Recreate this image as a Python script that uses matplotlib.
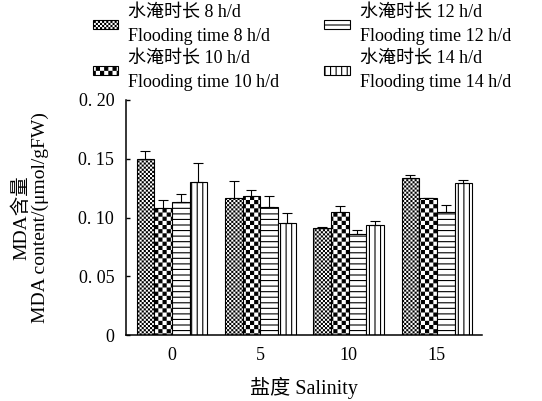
import warnings
import numpy as np
import matplotlib
matplotlib.use('Agg')
import matplotlib.pyplot as plt
import matplotlib.hatch as mhatch
from matplotlib.path import Path

warnings.filterwarnings('ignore')

"""data read off the figure"""
salinity = ['0', '5', '10', '15']
labels = ['水淹时长 8 h/d\nFlooding time 8 h/d',
          '水淹时长 10 h/d\nFlooding time 10 h/d',
          '水淹时长 12 h/d\nFlooding time 12 h/d',
          '水淹时长 14 h/d\nFlooding time 14 h/d']
mda_8h = [0.150, 0.117, 0.091, 0.134]
mda_10h = [0.108, 0.118, 0.105, 0.117]
mda_12h = [0.113, 0.109, 0.086, 0.105]
mda_14h = [0.130, 0.095, 0.094, 0.129]
err_8h = [0.007, 0.014, 0.001, 0.002]
err_10h = [0.0065, 0.0056, 0.0044, 0.0]
err_12h = [0.007, 0.009, 0.0034, 0.0057]
err_14h = [0.016, 0.0085, 0.0034, 0.0026]
yticks = [0, 0.05, 0.10, 0.15, 0.20]
ytick_labels = ['0', '0. 05', '0. 10', '0. 15', '0. 20']

plt.rcParams['font.family'] = ['Liberation Serif', 'Noto Sans CJK SC']
plt.rcParams['hatch.linewidth'] = 0.8


class CheckerHatch(mhatch.HatchPatternBase):
    """checkerboard hatch: each 'c' gives 24 squares per inch"""
    def __init__(self, hatch, density):
        self.num_sq = 4 * hatch.count('c') * density
        self.num_vertices = (self.num_sq ** 2 // 2) * 5

    def set_vertices_and_codes(self, vertices, codes):
        s = 1.0 / self.num_sq
        d = plt.rcParams['hatch.linewidth'] / 72.0 / 2
        k = 0
        for i in range(self.num_sq):
            for j in range(self.num_sq):
                if (i + j) % 2:
                    continue
                x0, y0 = i * s + d, j * s + d
                x1, y1 = x0 + s - 2 * d, y0 + s - 2 * d
                vertices[k:k + 5] = [[x0, y0], [x1, y0], [x1, y1], [x0, y1], [x0, y0]]
                codes[k:k + 5] = [Path.MOVETO, Path.LINETO, Path.LINETO,
                                  Path.LINETO, Path.CLOSEPOLY]
                k += 5


mhatch._hatch_types.append(CheckerHatch)

fig = plt.figure(figsize=(5.42, 4.01), dpi=100)
ax = fig.add_axes([126 / 542, 66 / 401, 356 / 542, 235 / 401])

x = np.arange(len(salinity))
width = 0.2
series = [mda_8h, mda_10h, mda_12h, mda_14h]
errors = [err_8h, err_10h, err_12h, err_14h]
hatches = ['cc', 'c', '---', '|||']
for i in range(4):
    ax.bar(x + (i - 1.5) * width, series[i], width,
           yerr=[np.zeros(len(x)), errors[i]],
           color='white', edgecolor='black', linewidth=0.8,
           hatch=hatches[i], label=labels[i],
           error_kw=dict(elinewidth=0.8, capsize=3.6, capthick=0.8, ecolor='black'))

ax.set_xlim(-0.52, 3.51)
ax.set_ylim(0, 0.2)
ax.set_xticks(x)
ax.set_xticklabels(salinity, fontsize=13)
ax.set_yticks(yticks)
ax.set_yticklabels(ytick_labels, fontsize=13)
ax.tick_params(axis='x', length=0, pad=8.5)
ax.tick_params(axis='y', direction='in', length=3, width=1, pad=8.5)
for side in ['top', 'right']:
    ax.spines[side].set_visible(False)
for side in ['left', 'bottom']:
    ax.spines[side].set_linewidth(1.1)

ax.set_xlabel('盐度 Salinity', fontsize=14.5)
ax.xaxis.set_label_coords(0.5, -0.18)
ax.set_ylabel('MDA含量\nMDA content/(μmol/gFW)', fontsize=14, linespacing=1.1)
ax.yaxis.set_label_coords(-0.215, 0.5)

leg = fig.legend(loc='upper left', bbox_to_anchor=(93 / 542, 1 - 4 / 401), ncol=2,
                 frameon=False, fontsize=13, borderpad=0, borderaxespad=0,
                 handlelength=1.4, handleheight=0.4, handletextpad=0.55,
                 columnspacing=2.5, labelspacing=0.25)
for t in leg.get_texts():
    t.set_linespacing(1.55)

plt.savefig('out.png', dpi=100)
plt.close()
